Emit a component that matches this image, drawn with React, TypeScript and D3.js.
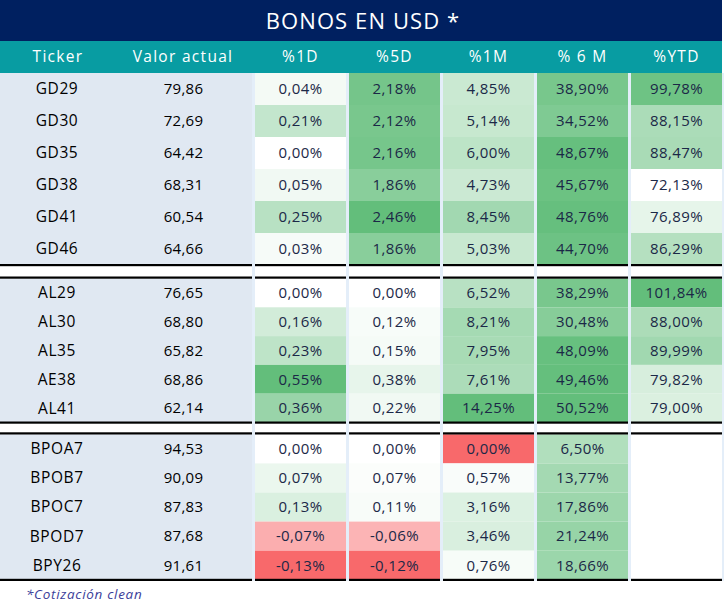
import React from "react";
import * as d3 from "d3";

const title = "BONOS EN USD *";
const footnote = "*Cotización clean";
const headers = ["Ticker", "Valor actual", "%1D", "%5D", "%1M", "% 6 M", "%YTD"];

const groupSizes = [6, 5, 5];
const tickers = ["GD29", "GD30", "GD35", "GD38", "GD41", "GD46", "AL29", "AL30", "AL35", "AE38", "AL41", "BPOA7", "BPOB7", "BPOC7", "BPOD7", "BPY26"];
const valorActual = [79.86, 72.69, 64.42, 68.31, 60.54, 64.66, 76.65, 68.8, 65.82, 68.86, 62.14, 94.53, 90.09, 87.83, 87.68, 91.61];
const pct1D = [0.04, 0.21, 0.0, 0.05, 0.25, 0.03, 0.0, 0.16, 0.23, 0.55, 0.36, 0.0, 0.07, 0.13, -0.07, -0.13];
const pct5D = [2.18, 2.12, 2.16, 1.86, 2.46, 1.86, 0.0, 0.12, 0.15, 0.38, 0.22, 0.0, 0.07, 0.11, -0.06, -0.12];
const pct1M = [4.85, 5.14, 6.0, 4.73, 8.45, 5.03, 6.52, 8.21, 7.95, 7.61, 14.25, 0.0, 0.57, 3.16, 3.46, 0.76];
const pct6M = [38.9, 34.52, 48.67, 45.67, 48.76, 44.7, 38.29, 30.48, 48.09, 49.46, 50.52, 6.5, 13.77, 17.86, 21.24, 18.66];
const pctYTD: (number | null)[] = [99.78, 88.15, 88.47, 72.13, 76.89, 86.29, 101.84, 88.0, 89.99, 79.82, 79.0, null, null, null, null, null];

const W = 724;
const H = 610;
const NAVY = "#002060";
const TEAL = "#089ca2";
const LEFTBG = "#e0e8f2";
const GAPBG = "#e4eef9";
const WHITE = "#ffffff";
const GREEN = "#63be7b";
const RED = "#f8696b";
const FONT = "'Open Sans', 'Noto Sans', sans-serif";

const fmt = (v: number) => v.toFixed(2).replace(".", ",");

type Col = { values: (number | null)[]; kind: "div" | "seq"; lowT: number };
const pctCols: Col[] = [
  { values: pct1D, kind: "div", lowT: 0 },
  { values: pct5D, kind: "div", lowT: 0 },
  { values: pct1M, kind: "div", lowT: 0 },
  { values: pct6M, kind: "seq", lowT: 0.5 },
  { values: pctYTD, kind: "seq", lowT: 0 },
];

const toGreen = d3.interpolateRgb(WHITE, GREEN);
const toRed = d3.interpolateRgb(WHITE, RED);

function colorFor(col: Col, v: number | null): string {
  if (v === null) return WHITE;
  const vals = col.values.filter((x): x is number => x !== null);
  const [mn, mx] = d3.extent(vals) as [number, number];
  if (col.kind === "div") {
    if (v === mn) return RED;
    if (v < 0) return toRed(d3.scaleLinear().domain([0, mn]).range([0, 1])(v));
    return toGreen(d3.scaleLinear().domain([0, mx]).range([0, 1])(v));
  }
  const t = d3.scaleLinear().domain([mn, mx]).range([col.lowT, 1])(v);
  return toGreen(t);
}

// horizontal layout
const leftCols = [
  { x0: 0, x1: 114 },
  { x0: 114, x1: 252 },
];
const pctX = d3.scaleLinear().domain([0, 1]).range([255, 349]);
const pctW = 91;

// vertical layout
const titleY0 = 0;
const titleY1 = 41;
const headY1 = 73;
const groupStarts = [73, 278.5, 434.3];
const groupRowH = [32, 28.8, 29.1];

export default function App() {
  const rows: { i: number; y: number; h: number }[] = [];
  let idx = 0;
  groupSizes.forEach((n, g) => {
    const ys = d3.scaleLinear().domain([0, 1]).range([groupStarts[g], groupStarts[g] + groupRowH[g]]);
    for (let k = 0; k < n; k++) {
      rows.push({ i: idx, y: ys(k), h: groupRowH[g] });
      idx++;
    }
  });
  const groupEnds = groupSizes.map((n, g) => groupStarts[g] + n * groupRowH[g]);
  const lastY = groupEnds[groupEnds.length - 1];

  const segments = [
    { x0: 0, x1: 252 },
    ...pctCols.map((_, c) => ({ x0: pctX(c), x1: pctX(c) + pctW })),
  ];
  const lineYs: number[] = [];
  groupEnds.forEach((e, g) => {
    lineYs.push(e);
    if (g < groupEnds.length - 1) lineYs.push(groupStarts[g + 1] - 1);
  });

  return (
    <svg
      width={W}
      height={H}
      style={{ position: "absolute", left: 0, top: 0, background: "#fff" }}
      fontFamily={FONT}
    >
      <rect x={0} y={0} width={W} height={H} fill="#fff" />
      {/* title */}
      <rect x={0} y={titleY0} width={722} height={titleY1 - titleY0} fill={NAVY} />
      <text x={363} y={titleY1 / 2 + 0.5} dy="0.35em" textAnchor="middle" fill="#fff" fontSize={22} letterSpacing={1.1}>
        {title}
      </text>
      {/* header */}
      <rect x={0} y={titleY1} width={722} height={headY1 - titleY1} fill={TEAL} />
      {headers.map((h, c) => {
        const cx = c < 2 ? (leftCols[c].x0 + leftCols[c].x1) / 2 : pctX(c - 2) + pctW / 2;
        return (
          <text key={h} x={cx + (c === 0 ? 1 : 0)} y={(titleY1 + headY1) / 2} dy="0.35em" textAnchor="middle" fill="#fff" fontSize={15.5} letterSpacing={1.3}>
            {h}
          </text>
        );
      })}
      {/* gap columns */}
      {[252, ...pctCols.map((_, c) => pctX(c) + pctW)].map((gx, k) => (
        <rect key={"gap" + k} x={gx} y={headY1} width={3} height={lastY + 1 - headY1} fill={GAPBG} />
      ))}
      {/* left block backgrounds */}
      {groupSizes.map((n, g) => (
        <rect key={"lb" + g} x={0} y={groupStarts[g]} width={252} height={groupEnds[g] - groupStarts[g]} fill={LEFTBG} />
      ))}
      {/* cells */}
      {rows.map(({ i, y, h }) => (
        <g key={"r" + i}>
          <text x={57} y={y + h / 2} dy="0.35em" textAnchor="middle" fill="#000" fontSize={15.5} letterSpacing={0.6}>
            {tickers[i]}
          </text>
          <text x={183.5} y={y + h / 2} dy="0.35em" textAnchor="middle" fill="#000" fontSize={15} letterSpacing={0.3}>
            {fmt(valorActual[i])}
          </text>
          {pctCols.map((col, c) => {
            const v = col.values[i];
            return (
              <g key={"c" + c}>
                <rect x={pctX(c)} y={y} width={pctW} height={h} fill={colorFor(col, v)} />
                {v !== null && (
                  <text x={pctX(c) + pctW / 2} y={y + h / 2} dy="0.35em" textAnchor="middle" fill="#1b2847" fontSize={15} letterSpacing={0.4}>
                    {fmt(v) + "%"}
                  </text>
                )}
              </g>
            );
          })}
        </g>
      ))}
      {/* black separators */}
      {lineYs.map((ly, k) =>
        segments.map((s, j) => (
          <rect key={"l" + k + "-" + j} x={s.x0} y={ly - 1} width={s.x1 - s.x0} height={2.2} fill="#000" />
        ))
      )}
      {/* footnote */}
      <text x={26} y={599} fill="#3b3e9a" fontSize={13.5} fontStyle="italic" letterSpacing={0.7}>
        {footnote}
      </text>
    </svg>
  );
}
